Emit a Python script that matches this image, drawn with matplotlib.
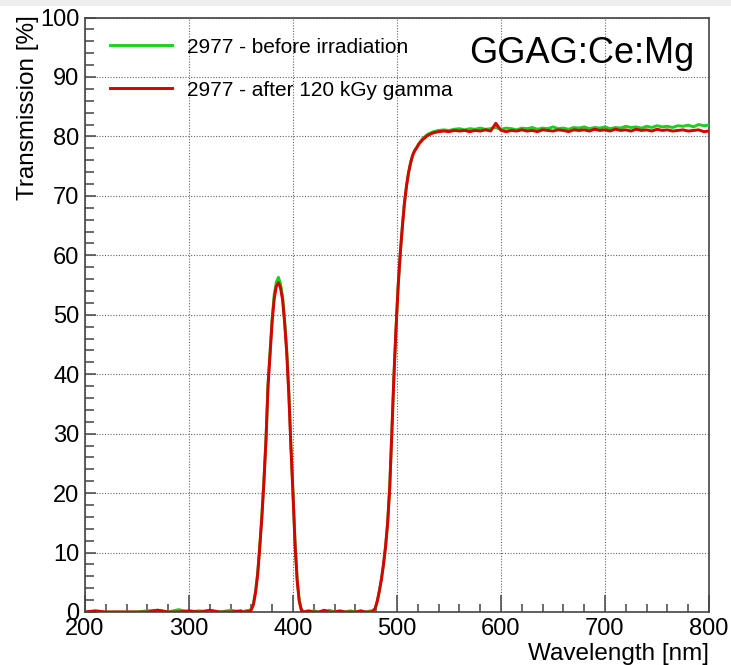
import numpy as np
import matplotlib
matplotlib.use("Agg")
import matplotlib.pyplot as plt
from matplotlib.ticker import MultipleLocator
from matplotlib.patches import Rectangle

plt.rcParams['font.family'] = ['Liberation Sans', 'DejaVu Sans']

# wavelength sampling [nm], segment by segment
wl_base = [200, 210, 220, 230, 240, 250, 260, 270, 280, 290, 300, 310, 320, 330, 340, 350]
wl_peak = [352, 354, 356, 358, 360, 362, 364, 366, 368, 370, 372, 374, 376, 378, 380,
           382, 384, 386, 388, 390, 392, 394, 396, 398, 400, 402, 404, 406, 408, 410]
wl_gap = [415, 420, 425, 430, 435, 440, 445, 450, 455, 460, 465, 470, 475]
wl_edge = [477, 479, 481, 483, 485, 487, 489, 491, 493, 495, 497, 499, 501, 503,
           505, 507, 509, 511, 513, 515, 517, 519, 521, 523, 525, 527, 529, 531]
wl_flat = [535, 540, 545, 550, 555, 560, 565, 570, 575, 580, 585, 590, 595, 600,
           605, 610, 615, 620, 625, 630, 635, 640, 645, 650, 655, 660, 665, 670,
           675, 680, 685, 690, 695, 700, 705, 710, 715, 720, 725, 730, 735, 740,
           745, 750, 755, 760, 765, 770, 775, 780, 785, 790, 795, 800]

# transmission [%] before irradiation
before_base = [0, 0, 0, 0, 0, 0, 0.2, 0.3, 0, 0.4, 0, 0.2, 0, 0, 0.3, 0]
before_peak = [0, 0.2, 0, 0.3, 0.5, 1.5, 3.5, 6.5, 11, 16, 22, 29, 38.5, 44, 49.5,
               53.5, 55.5, 56.3, 55.2, 53, 49, 44, 37, 28, 20, 11.5, 5.5, 2, 0.5, 0]
before_gap = [0, 0.2, 0, 0, 0.3, 0, 0, 0, 0.2, 0, 0, 0, 0.2]
before_edge = [0.2, 0.6, 1.8, 3.5, 5.5, 8, 11, 15, 21, 30, 39.5, 47.5, 54.5, 60,
               64.5, 68.5, 71.5, 73.8, 75.5, 76.8, 77.6, 78.2, 78.8, 79.3, 79.7, 80, 80.3, 80.5]
before_flat = [80.8, 81.0, 81.1, 81.0, 81.2, 81.3, 81.1, 81.3, 81.2, 81.4, 81.2, 81.3,
               81.5, 81.2, 81.4, 81.3, 81.1, 81.4, 81.3, 81.5, 81.2, 81.4, 81.3, 81.6,
               81.3, 81.4, 81.2, 81.5, 81.4, 81.6, 81.3, 81.5, 81.4, 81.6, 81.3, 81.5,
               81.4, 81.7, 81.5, 81.6, 81.4, 81.7, 81.5, 81.8, 81.6, 81.7, 81.5, 81.8,
               81.7, 81.9, 81.6, 82.0, 81.8, 81.9]

# transmission [%] after 120 kGy gamma
after_base = [0, 0.2, 0, 0, 0, 0, 0, 0.3, 0, 0, 0.2, 0, 0.3, 0, 0, 0.2]
after_peak = [0, 0, 0.2, 0, 0.4, 1.3, 3.3, 6.3, 10.8, 15.8, 21.8, 28.8, 38, 43.5, 49,
              52.8, 54.8, 55.4, 54.5, 52.5, 48.5, 43.5, 36.5, 27.8, 19.8, 11.3, 5.3, 1.8, 0.3, 0]
after_gap = [0.2, 0, 0, 0.3, 0, 0, 0.2, 0, 0, 0, 0.2, 0, 0]
after_edge = [0.2, 0.6, 1.8, 3.5, 5.5, 8, 11, 15, 21, 30, 39.5, 47.5, 54.5, 60,
              64.5, 68.5, 71.5, 73.8, 75.5, 76.8, 77.6, 78.1, 78.7, 79.1, 79.5, 79.8, 80.1, 80.3]
after_flat = [80.6, 80.8, 80.9, 80.8, 81.0, 80.9, 81.0, 80.8, 81.0, 80.9, 81.1, 80.9,
              82.2, 81.0, 80.8, 81.0, 80.9, 81.1, 80.9, 81.0, 80.8, 81.1, 81.0, 80.9,
              81.1, 81.0, 80.8, 81.1, 81.0, 81.1, 80.9, 81.2, 81.0, 81.1, 80.9, 81.2,
              81.0, 81.1, 80.9, 81.2, 81.0, 81.1, 80.9, 81.2, 81.0, 81.1, 80.9, 81.0,
              81.1, 80.9, 81.0, 81.1, 80.8, 80.9]

wavelength = np.array(wl_base + wl_peak + wl_gap + wl_edge + wl_flat)
t_before = np.array(before_base + before_peak + before_gap + before_edge + before_flat)
t_after = np.array(after_base + after_peak + after_gap + after_edge + after_flat)

label_before = "2977 - before irradiation"
label_after = "2977 - after 120 kGy gamma"
crystal = "GGAG:Ce:Mg"

fig = plt.figure(figsize=(7.31, 6.65), dpi=100)
fig.patches.append(Rectangle((0, 1 - 6 / 665), 1, 6 / 665, transform=fig.transFigure,
                             facecolor='#eeeeee', edgecolor='none', zorder=0))
ax = fig.add_axes([85 / 731, 53 / 665, 624 / 731, 594.5 / 665])

ax.plot(wavelength, t_before, color='#1ed01e', lw=2.1, label=label_before, zorder=3)
ax.plot(wavelength, t_after, color='#d80000', lw=2.1, label=label_after, zorder=4)

ax.set_xlim(200, 800)
ax.set_ylim(0, 100)
ax.xaxis.set_major_locator(MultipleLocator(100))
ax.xaxis.set_minor_locator(MultipleLocator(20))
ax.yaxis.set_major_locator(MultipleLocator(10))
ax.yaxis.set_minor_locator(MultipleLocator(2))

ax.tick_params(axis='both', which='both', direction='in', top=False, right=False,
               color='#444444', width=1.1, labelsize=17)
ax.tick_params(axis='x', which='major', length=12, pad=4)
ax.tick_params(axis='x', which='minor', length=5.8)
ax.tick_params(axis='y', which='major', length=8, pad=4)
ax.tick_params(axis='y', which='minor', length=6.5)

for sp in ax.spines.values():
    sp.set_color('#444444')
    sp.set_linewidth(1.2)

ax.grid(True, which='major', linestyle=(0, (1, 1.5)), color='#666666', linewidth=0.8)

ax.set_xlabel("Wavelength [nm]", fontsize=17.5, loc='right')
ax.xaxis.set_label_coords(1.0, (612 - 660) / 594.5)
ax.xaxis.label.set_va('baseline')

ax.set_ylabel("Transmission [%]", fontsize=17.5, loc='top')
ax.yaxis.set_label_coords((34 - 85) / 624, 1.004)
ax.yaxis.label.set_va('baseline')

ax.text(0.977, (612 - 63) / 594.5, crystal, transform=ax.transAxes, fontsize=26,
        ha='right', va='baseline')

ax.legend(loc='upper left', bbox_to_anchor=(0.04, 0.966), frameon=False, fontsize=15,
          handlelength=3.0, handletextpad=0.7, labelspacing=1.15, borderpad=0,
          borderaxespad=0)

fig.savefig("out.png", dpi=100)
